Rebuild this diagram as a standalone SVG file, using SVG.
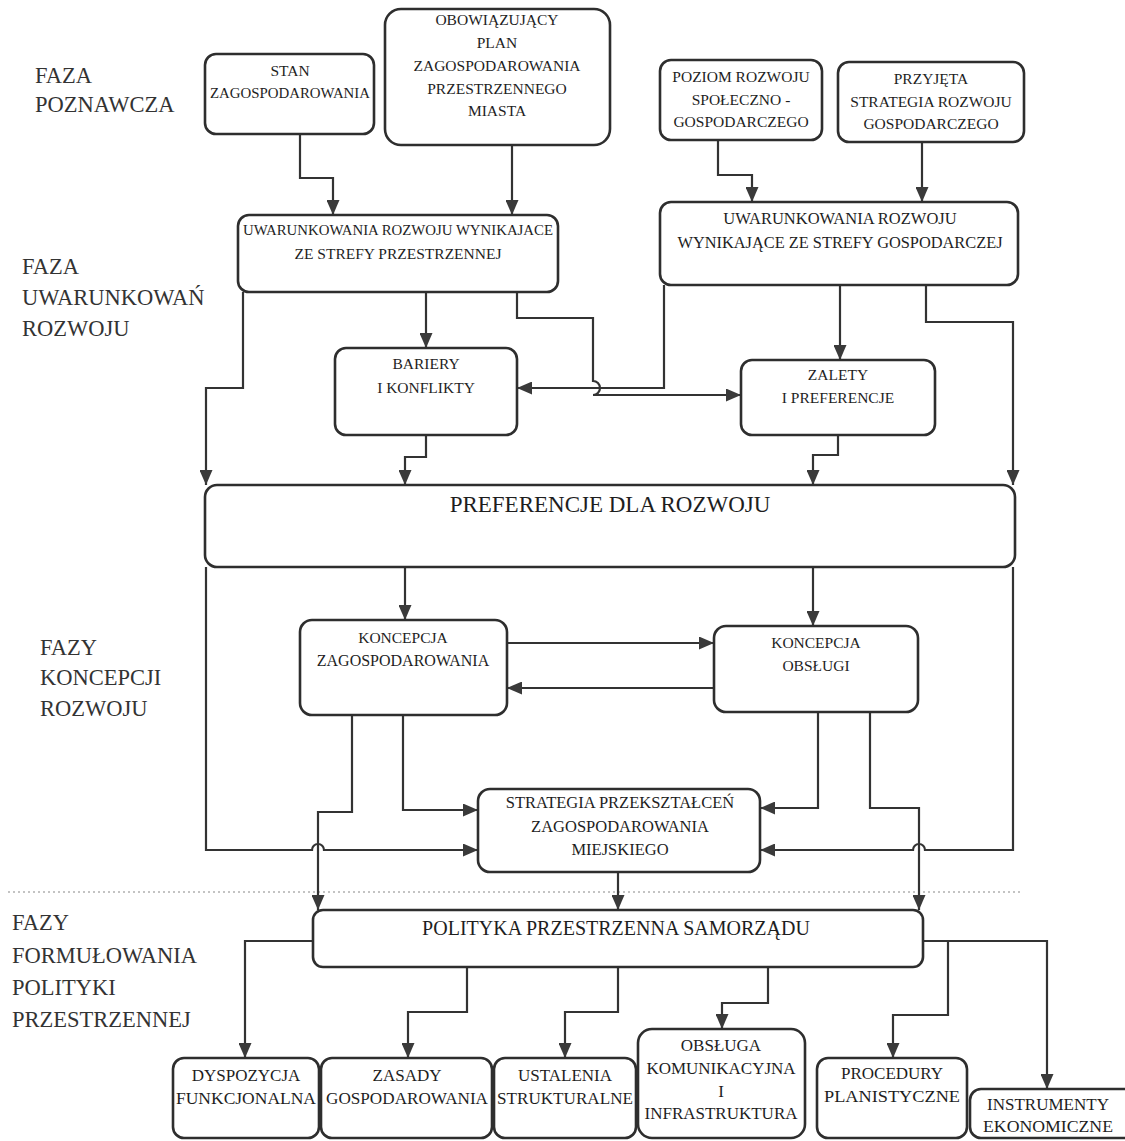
<svg xmlns="http://www.w3.org/2000/svg" width="1125" height="1141" viewBox="0 0 1125 1141">
<style>
.box{fill:#fff;stroke:#2e2e2e;stroke-width:2.6}
.t{font-family:"Liberation Serif","DejaVu Serif",serif;font-size:15.5px;fill:#1e1e1e;text-anchor:middle}
.b{font-size:17px}
.lab{font-family:"Liberation Serif","DejaVu Serif",serif;font-size:22.5px;fill:#333}
.c{fill:none;stroke:#333;stroke-width:2.2;stroke-linejoin:miter}
.a{marker-end:url(#ah)}
</style>
<defs>
<marker id="ah" viewBox="0 0 15 13" refX="15" refY="6.5" markerWidth="15" markerHeight="13" markerUnits="userSpaceOnUse" orient="auto">
<path d="M0,0 L15,6.5 L0,13 z" fill="#3a3a3a"/>
</marker>
</defs>
<rect width="1125" height="1141" fill="#fff"/>

<g id="labels">
<text class="lab" x="35" y="83">FAZA</text>
<text class="lab" x="35" y="112">POZNAWCZA</text>
<text class="lab" x="22" y="274">FAZA</text>
<text class="lab" x="22" y="305">UWARUNKOWAŃ</text>
<text class="lab" x="22" y="336">ROZWOJU</text>
<text class="lab" x="40" y="655">FAZY</text>
<text class="lab" x="40" y="685">KONCEPCJI</text>
<text class="lab" x="40" y="716">ROZWOJU</text>
<text class="lab" x="12" y="930">FAZY</text>
<text class="lab" x="12" y="963">FORMUŁOWANIA</text>
<text class="lab" x="12" y="995">POLITYKI</text>
<text class="lab" x="12" y="1027">PRZESTRZENNEJ</text>
</g>

<line x1="8" y1="892" x2="1020" y2="892" stroke="#888" stroke-width="1.2" stroke-dasharray="2,3"/>

<g id="connectors">
<path class="c a" d="M300,134 V178 H333 V215"/>
<path class="c a" d="M512,145 V215"/>
<path class="c a" d="M718,140 V175 H752 V202"/>
<path class="c a" d="M922,142 V202"/>
<path class="c a" d="M426,292 V348"/>
<path class="c a" d="M243,292 V388 H206 V485"/>
<path class="c a" d="M517,292 V318 H593 V381 a7,7 0 0 1 0,14 H741"/>
<path class="c a" d="M664,285 V388 H517"/>
<path class="c a" d="M840,285 V360"/>
<path class="c a" d="M926,285 V322 H1013 V485"/>
<path class="c a" d="M426,435 V457 H405 V485"/>
<path class="c a" d="M838,435 V455 H813 V485"/>
<path class="c a" d="M405,567 V620"/>
<path class="c a" d="M813,567 V626"/>
<path class="c a" d="M507,643 H714"/>
<path class="c a" d="M714,688 H507"/>
<path class="c a" d="M206,567 V850 H312 a6,6 0 0 1 12,0 H478"/>
<path class="c a" d="M352,715 V812 H318 V910"/>
<path class="c a" d="M403,715 V810 H478"/>
<path class="c a" d="M818,712 V808 H760"/>
<path class="c a" d="M870,712 V808 H919 V910"/>
<path class="c a" d="M1013,567 V850 H925 a6,6 0 0 0 -12,0 H760"/>
<path class="c a" d="M618,872 V910"/>
<path class="c a" d="M313,941 H245 V1058"/>
<path class="c a" d="M467,967 V1012 H408 V1058"/>
<path class="c a" d="M618,967 V1012 H565 V1058"/>
<path class="c a" d="M768,967 V1003 H722 V1029"/>
<path class="c a" d="M923,941 H1047 V1089"/>
<path class="c a" d="M948,941 V1015 H893 V1058"/>
</g>

<g id="n-stan">
<rect class="box" x="205" y="54" width="169" height="80" rx="11"/>
<text class="t" x="290" y="76">STAN</text>
<text class="t" x="290" y="98" textLength="160" lengthAdjust="spacingAndGlyphs">ZAGOSPODAROWANIA</text>
</g>
<g id="n-plan">
<rect class="box" x="385" y="9" width="225" height="136" rx="16"/>
<text class="t" x="497" y="25">OBOWIĄZUJĄCY</text>
<text class="t" x="497" y="48">PLAN</text>
<text class="t" x="497" y="71">ZAGOSPODAROWANIA</text>
<text class="t" x="497" y="94">PRZESTRZENNEGO</text>
<text class="t" x="497" y="116">MIASTA</text>
</g>
<g id="n-poziom">
<rect class="box" x="660" y="60" width="162" height="80" rx="11"/>
<text class="t" x="741" y="82">POZIOM ROZWOJU</text>
<text class="t" x="741" y="105">SPOŁECZNO -</text>
<text class="t" x="741" y="127">GOSPODARCZEGO</text>
</g>
<g id="n-przyjeta">
<rect class="box" x="838" y="62" width="186" height="80" rx="11"/>
<text class="t" x="931" y="84">PRZYJĘTA</text>
<text class="t" x="931" y="107">STRATEGIA ROZWOJU</text>
<text class="t" x="931" y="129">GOSPODARCZEGO</text>
</g>
<g id="n-uwar-przestrzenne">
<rect class="box" x="238" y="215" width="320" height="77" rx="11"/>
<text class="t" x="398" y="235" textLength="310" lengthAdjust="spacingAndGlyphs">UWARUNKOWANIA  ROZWOJU WYNIKAJACE</text>
<text class="t" x="398" y="259">ZE STREFY PRZESTRZENNEJ</text>
</g>
<g id="n-uwar-gospodarcze">
<rect class="box" x="660" y="202" width="358" height="83" rx="11"/>
<text class="t" x="840" y="224" style="font-size:16.5px">UWARUNKOWANIA ROZWOJU</text>
<text class="t" x="840" y="248" textLength="325" lengthAdjust="spacingAndGlyphs" style="font-size:16.5px">WYNIKAJĄCE ZE STREFY GOSPODARCZEJ</text>
</g>
<g id="n-bariery">
<rect class="box" x="335" y="348" width="182" height="87" rx="11"/>
<text class="t" x="426" y="369">BARIERY</text>
<text class="t" x="426" y="393">I KONFLIKTY</text>
</g>
<g id="n-zalety">
<rect class="box" x="741" y="360" width="194" height="75" rx="11"/>
<text class="t" x="838" y="380">ZALETY</text>
<text class="t" x="838" y="403">I PREFERENCJE</text>
</g>
<g id="n-preferencje">
<rect class="box" x="205" y="485" width="810" height="82" rx="12"/>
<text class="t" x="610" y="512" style="font-size:23px">PREFERENCJE DLA ROZWOJU</text>
</g>
<g id="n-koncepcja-zag">
<rect class="box" x="300" y="620" width="207" height="95" rx="12"/>
<text class="t" x="403" y="643">KONCEPCJA</text>
<text class="t" x="403" y="666" style="font-size:16px">ZAGOSPODAROWANIA</text>
</g>
<g id="n-koncepcja-obs">
<rect class="box" x="714" y="626" width="204" height="86" rx="12"/>
<text class="t" x="816" y="648">KONCEPCJA</text>
<text class="t" x="816" y="671">OBSŁUGI</text>
</g>
<g id="n-strategia">
<rect class="box" x="478" y="789" width="282" height="83" rx="12"/>
<text class="t" x="620" y="808" style="font-size:16.5px">STRATEGIA PRZEKSZTAŁCEŃ</text>
<text class="t" x="620" y="832" style="font-size:16.5px">ZAGOSPODAROWANIA</text>
<text class="t" x="620" y="855" style="font-size:16.5px">MIEJSKIEGO</text>
</g>
<g id="n-polityka">
<rect class="box" x="313" y="910" width="610" height="57" rx="10"/>
<text class="t" x="616" y="935" style="font-size:20px">POLITYKA PRZESTRZENNA SAMORZĄDU</text>
</g>
<g id="n-dyspozycja">
<rect class="box" x="173" y="1058" width="146" height="80" rx="11"/>
<text class="t b" x="246" y="1081">DYSPOZYCJA</text>
<text class="t b" x="246" y="1104" textLength="140" lengthAdjust="spacingAndGlyphs">FUNKCJONALNA</text>
</g>
<g id="n-zasady">
<rect class="box" x="321" y="1058" width="171" height="80" rx="11"/>
<text class="t b" x="407" y="1081">ZASADY</text>
<text class="t b" x="407" y="1104" textLength="162" lengthAdjust="spacingAndGlyphs">GOSPODAROWANIA</text>
</g>
<g id="n-ustalenia">
<rect class="box" x="494" y="1058" width="142" height="80" rx="11"/>
<text class="t b" x="565" y="1081">USTALENIA</text>
<text class="t b" x="565" y="1104" textLength="136" lengthAdjust="spacingAndGlyphs">STRUKTURALNE</text>
</g>
<g id="n-obsluga">
<rect class="box" x="638" y="1029" width="167" height="109" rx="14"/>
<text class="t b" x="721" y="1051">OBSŁUGA</text>
<text class="t b" x="721" y="1074">KOMUNIKACYJNA</text>
<text class="t b" x="721" y="1097">I</text>
<text class="t b" x="721" y="1119">INFRASTRUKTURA</text>
</g>
<g id="n-procedury">
<rect class="box" x="817" y="1058" width="150" height="80" rx="11"/>
<text class="t b" x="892" y="1079">PROCEDURY</text>
<text class="t b" x="892" y="1102" textLength="136" lengthAdjust="spacingAndGlyphs">PLANISTYCZNE</text>
</g>
<g id="n-instrumenty">
<rect class="box" x="970" y="1089" width="165" height="49" rx="11"/>
<text class="t b" x="1048" y="1110">INSTRUMENTY</text>
<text class="t b" x="1048" y="1132" textLength="130" lengthAdjust="spacingAndGlyphs">EKONOMICZNE</text>
</g>
</svg>
